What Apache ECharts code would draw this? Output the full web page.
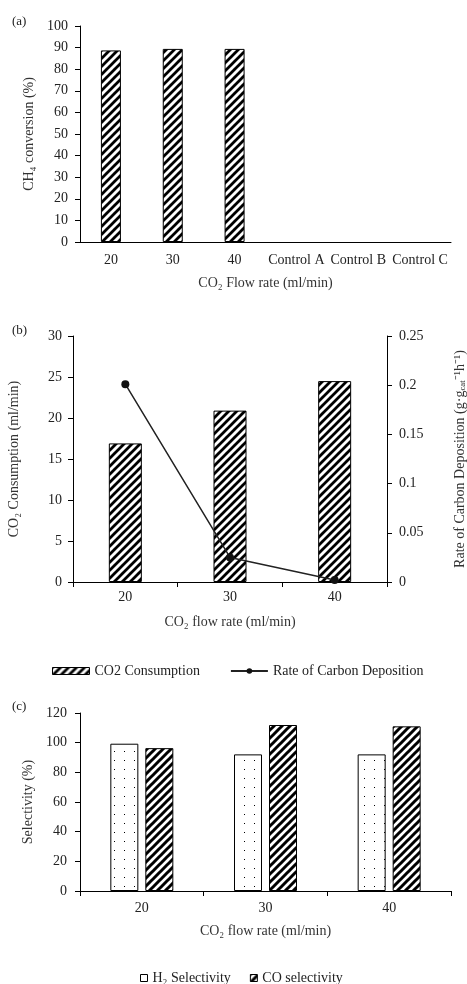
<!DOCTYPE html>
<html>
<head>
<meta charset="utf-8">
<script src="https://cdn.jsdelivr.net/npm/echarts@6/dist/echarts.min.js"></script>
<style>
  html, body { margin: 0; padding: 0; background: #fff; }
  #chart { width: 467px; height: 984px; }
</style>
</head>
<body>
<div id="chart"></div>
<script>
// values
var catsA = ['20', '30', '40', 'Control A', 'Control B', 'Control C'];
var ch4Conversion = [88.7, 89.4, 89.4, '-', '-', '-'];

var flowRates = ['20', '30', '40'];
var co2Consumption = [16.9, 20.9, 24.5];
var carbonRate = [0.201, 0.025, 0.002];

var h2Selectivity = [99.3, 92.1, 92.1];
var coSelectivity = [96.3, 111.9, 111.0];

var FONT = "'Liberation Serif', 'Times New Roman', serif";
var TXT = '#222';

// diagonal hatch tile
function hatch(size, lw) {
    var c = document.createElement('canvas');
    c.width = size; c.height = size;
    var ctx = c.getContext('2d');
    ctx.fillStyle = '#fff';
    ctx.fillRect(0, 0, size, size);
    ctx.strokeStyle = '#000';
    ctx.lineWidth = lw;
    ctx.beginPath();
    ctx.moveTo(0, size); ctx.lineTo(size, 0);
    ctx.moveTo(-size / 2, size / 2); ctx.lineTo(size / 2, -size / 2);
    ctx.moveTo(size / 2, size * 1.5); ctx.lineTo(size * 1.5, size / 2);
    ctx.stroke();
    return { image: c, repeat: 'repeat' };
}

// sparse dots tile
function dots() {
    var c = document.createElement('canvas');
    c.width = 10; c.height = 9;
    var ctx = c.getContext('2d');
    ctx.fillStyle = '#fff';
    ctx.fillRect(0, 0, 10, 9);
    ctx.fillStyle = '#000';
    ctx.fillRect(4, 4, 1, 1);
    return { image: c, repeat: 'repeat' };
}

var hatchA = hatch(8, 2.8);
var hatchC = hatch(8, 3);
var dotFill = dots();

var axisLine = { lineStyle: { color: '#000', width: 1 } };
var labelStyle = { color: TXT, fontFamily: FONT, fontSize: 14 };
var nameStyle = { color: '#333', fontFamily: FONT, fontSize: 14 };

var chart = echarts.init(document.getElementById('chart'), null, { renderer: 'canvas' });

chart.setOption({
    backgroundColor: '#fff',
    animation: false,
    title: [
        { text: '(a)', left: 12, top: 15, textStyle: { color: TXT, fontFamily: FONT, fontSize: 13, fontWeight: 'normal' }, padding: 0 },
        { text: '(b)', left: 12, top: 324, textStyle: { color: TXT, fontFamily: FONT, fontSize: 13, fontWeight: 'normal' }, padding: 0 },
        { text: '(c)', left: 12, top: 700, textStyle: { color: TXT, fontFamily: FONT, fontSize: 13, fontWeight: 'normal' }, padding: 0 }
    ],
    legend: [
        {
            left: 47, top: 659,
            itemWidth: 37, itemHeight: 7, itemGap: 30,
            textStyle: { color: TXT, fontFamily: FONT, fontSize: 14 },
            data: [
                { name: 'CO2 Consumption', icon: 'rect', itemStyle: { color: hatchA, borderColor: '#000', borderWidth: 1 } },
                { name: 'Rate of Carbon Deposition' }
            ]
        },
        {
            left: 135, top: 966,
            itemWidth: 7, itemHeight: 7, itemGap: 19,
            textStyle: { color: TXT, fontFamily: FONT, fontSize: 14 },
            data: [
                { name: 'H₂ Selectivity', icon: 'rect', itemStyle: { color: '#fff', borderColor: '#000', borderWidth: 1 } },
                { name: 'CO selectivity', icon: 'rect', itemStyle: { color: hatchC, borderColor: '#000', borderWidth: 1 } }
            ]
        }
    ],
    grid: [
        { left: 80, right: 16, top: 26, height: 216, outerBoundsMode: 'none' },
        { left: 73, right: 80, top: 336, height: 246, outerBoundsMode: 'none' },
        { left: 80, right: 16, top: 713, height: 178, outerBoundsMode: 'none' }
    ],
    xAxis: [
        {
            gridIndex: 0, type: 'category', data: catsA,
            axisLine: axisLine, axisTick: { show: false },
            axisLabel: Object.assign({ interval: 0, margin: 11 }, labelStyle),
            name: 'CO₂ Flow rate (ml/min)', nameLocation: 'middle', nameGap: 34, nameTextStyle: nameStyle
        },
        {
            gridIndex: 1, type: 'category', data: flowRates,
            axisLine: axisLine, axisTick: { show: true, length: 5, lineStyle: { color: '#000' } },
            axisLabel: Object.assign({ margin: 8 }, labelStyle),
            name: 'CO₂ flow rate (ml/min)', nameLocation: 'middle', nameGap: 33, nameTextStyle: nameStyle
        },
        {
            gridIndex: 2, type: 'category', data: flowRates,
            axisLine: axisLine, axisTick: { show: true, length: 5, lineStyle: { color: '#000' } },
            axisLabel: Object.assign({ margin: 10 }, labelStyle),
            name: 'CO₂ flow rate (ml/min)', nameLocation: 'middle', nameGap: 33, nameTextStyle: nameStyle
        }
    ],
    yAxis: [
        {
            gridIndex: 0, type: 'value', min: 0, max: 100, interval: 10,
            axisLine: { show: true, lineStyle: { color: '#000' } },
            axisTick: { show: true, length: 5, lineStyle: { color: '#000' } },
            splitLine: { show: false },
            axisLabel: Object.assign({ margin: 12 }, labelStyle),
            name: 'CH₄ conversion (%)', nameLocation: 'middle', nameGap: 40, nameTextStyle: nameStyle
        },
        {
            gridIndex: 1, type: 'value', min: 0, max: 30, interval: 5,
            axisLine: { show: true, lineStyle: { color: '#000' } },
            axisTick: { show: true, length: 5, lineStyle: { color: '#000' } },
            splitLine: { show: false },
            axisLabel: Object.assign({ margin: 11 }, labelStyle),
            name: 'CO₂ Consumption (ml/min)', nameLocation: 'middle', nameGap: 52, nameTextStyle: nameStyle
        },
        {
            gridIndex: 1, type: 'value', position: 'right', min: 0, max: 0.25, interval: 0.05,
            axisLine: { show: true, lineStyle: { color: '#000' } },
            axisTick: { show: true, length: 5, lineStyle: { color: '#000' } },
            splitLine: { show: false },
            axisLabel: Object.assign({ margin: 12 }, labelStyle),
            name: '{a|Rate of Carbon Deposition (g·g}{s|cat}{a|⁻¹h⁻¹)}', nameLocation: 'middle', nameGap: 66,
            nameTextStyle: {
                color: '#333', fontFamily: FONT, fontSize: 14,
                rich: {
                    a: { color: '#333', fontFamily: FONT, fontSize: 14 },
                    s: { color: '#333', fontFamily: FONT, fontSize: 9, verticalAlign: 'bottom', padding: [4, 0, 0, 0] }
                }
            }
        },
        {
            gridIndex: 2, type: 'value', min: 0, max: 120, interval: 20,
            axisLine: { show: true, lineStyle: { color: '#000' } },
            axisTick: { show: true, length: 5, lineStyle: { color: '#000' } },
            splitLine: { show: false },
            axisLabel: Object.assign({ margin: 13 }, labelStyle),
            name: 'Selectivity (%)', nameLocation: 'middle', nameGap: 40, nameTextStyle: nameStyle
        }
    ],
    series: [
        {
            name: 'CH4 conversion', type: 'bar', xAxisIndex: 0, yAxisIndex: 0,
            data: ch4Conversion, barWidth: 20,
            itemStyle: { color: hatchA, borderColor: '#000', borderWidth: 1 }
        },
        {
            name: 'CO2 Consumption', type: 'bar', xAxisIndex: 1, yAxisIndex: 1,
            data: co2Consumption, barWidth: 33,
            itemStyle: { color: hatchA, borderColor: '#000', borderWidth: 1 }
        },
        {
            name: 'Rate of Carbon Deposition', type: 'line', xAxisIndex: 1, yAxisIndex: 2,
            data: carbonRate, symbol: 'circle', symbolSize: 8,
            lineStyle: { color: '#222', width: 1.5 },
            itemStyle: { color: '#111' }, z: 5
        },
        {
            name: 'H₂ Selectivity', type: 'bar', xAxisIndex: 2, yAxisIndex: 3,
            data: h2Selectivity, barWidth: 28, barGap: '25%',
            itemStyle: { color: dotFill, borderColor: '#000', borderWidth: 1 }
        },
        {
            name: 'CO selectivity', type: 'bar', xAxisIndex: 2, yAxisIndex: 3,
            data: coSelectivity, barWidth: 28, barGap: '25%',
            itemStyle: { color: hatchC, borderColor: '#000', borderWidth: 1 }
        }
    ]
});
</script>
</body>
</html>
